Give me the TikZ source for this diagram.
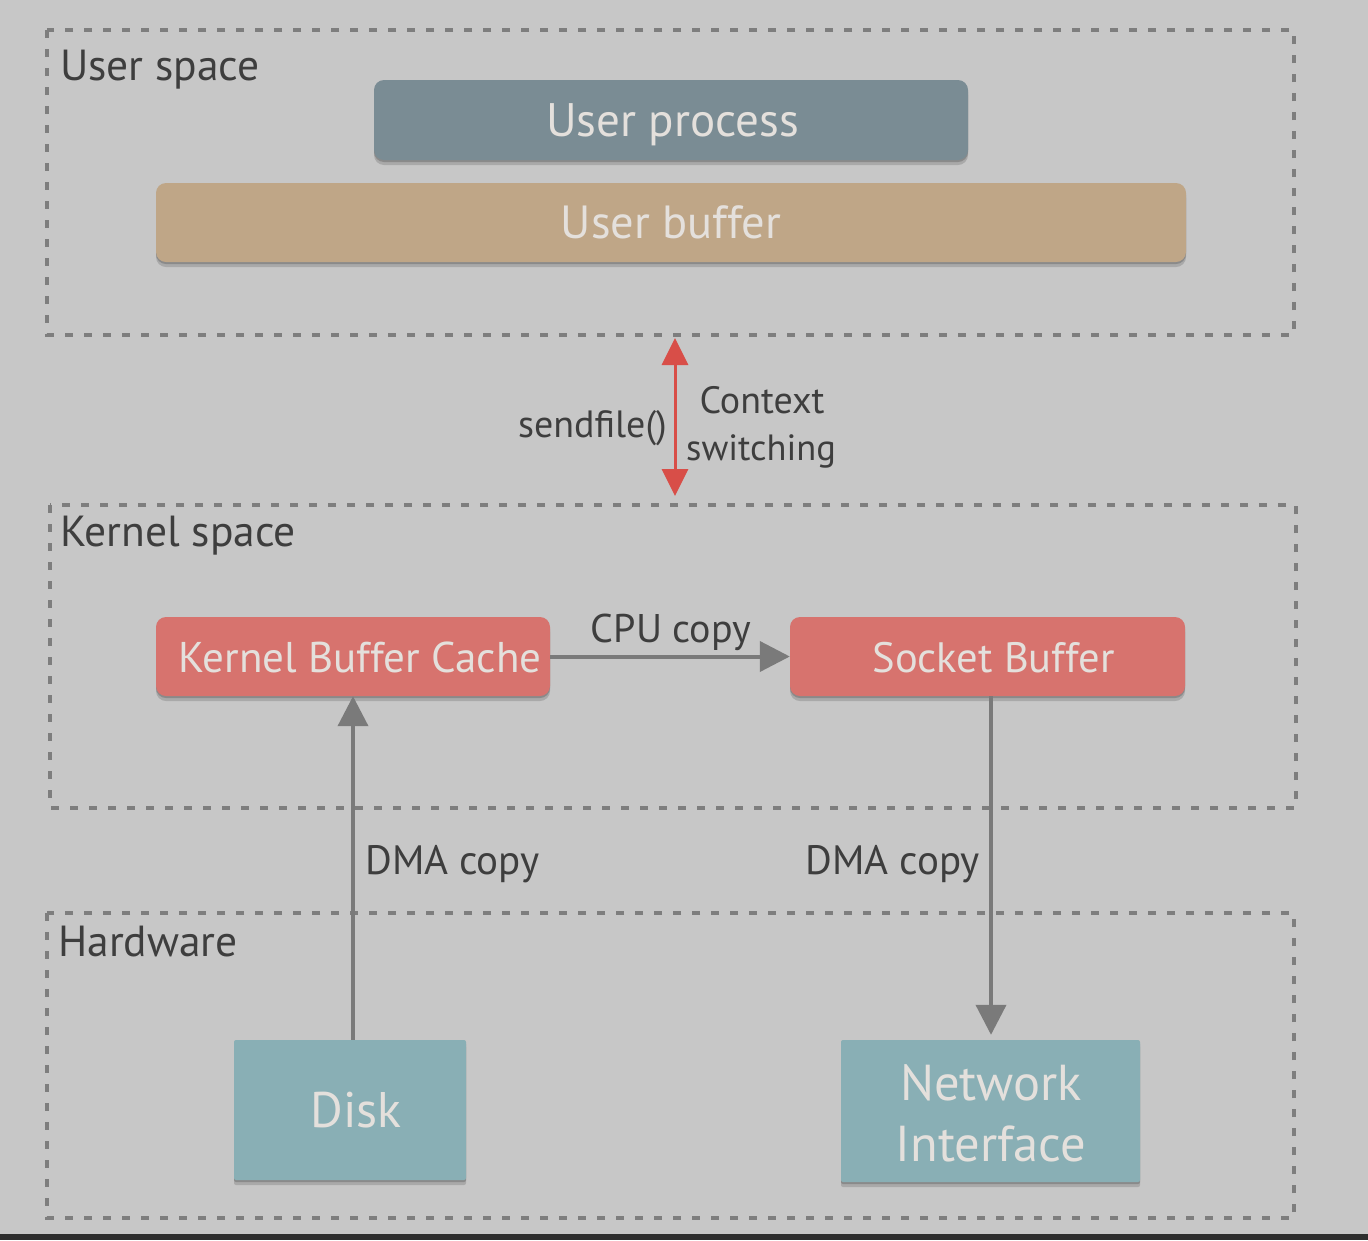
\documentclass[tikz,border=0pt]{standalone}
\usepackage{fontspec}
\setmainfont{PT Sans}
\usetikzlibrary{arrows.meta,shadows}
\definecolor{bg}{HTML}{C7C7C7}
\definecolor{bordergray}{HTML}{7E7E7E}
\definecolor{procgray}{HTML}{7A8C94}
\definecolor{buftan}{HTML}{BFA687}
\definecolor{kred}{HTML}{D7736E}
\definecolor{hwteal}{HTML}{89AFB5}
\definecolor{boxtext}{HTML}{E4E0DC}
\definecolor{labeltext}{HTML}{3E3E3E}
\definecolor{arrowgray}{HTML}{7A7A7A}
\definecolor{ctxred}{HTML}{D84E48}
\newcommand{\fsz}[1]{\fontsize{#1}{#1}\selectfont}
\newcommand{\padl}[1]{\hspace*{#1}}
\tikzset{
  region/.style={draw=bordergray, line width=3.5pt, dash pattern=on 8pt off 11pt},
  regionlabel/.style={anchor=base west, inner sep=0pt, text=labeltext, font=\fsz{43.5}},
  boxbase/.style={inner sep=0pt, text=boxtext, font=\fsz{46},
     text height=32pt, text depth=0pt,
     drop shadow={shadow xshift=0pt, shadow yshift=-2pt, opacity=0.18, fill=black},
     drop shadow={shadow xshift=0pt, shadow yshift=-5pt, opacity=0.15, fill=black}},
  roundbox/.style={boxbase, rounded corners=10pt},
  hwbox/.style={boxbase, rounded corners=2pt, fill=hwteal},
  boxline/.style={inner sep=0pt, anchor=base, text=boxtext, font=\fsz{50.5}},
  edgelabel/.style={inner sep=0pt, text=labeltext, font=\fsz{40}},
  grayarrow/.style={draw=arrowgray, line width=4pt, -{Triangle[length=30pt,width=30pt]}},
  redarrow/.style={draw=ctxred, line width=3pt, {Triangle[length=27pt,width=26pt]}-{Triangle[length=27pt,width=26pt]}},
}
\begin{document}
\begin{tikzpicture}[x=1pt,y=-1pt]
\useasboundingbox (0,0) rectangle (1368,1240);
\fill[bg] (0,0) rectangle (1368,1240);
\fill[black!82] (0,1234) rectangle (1368,1240);
% regions
\draw[region] (47,30) rectangle (1294,335);
\draw[region] (50,505) rectangle (1296,808);
\draw[region] (47,913) rectangle (1294,1218);
\node[regionlabel] (lu) at (60,80) {User space};
\node[regionlabel] (lk) at (60,546) {Kernel space};
\node[regionlabel] (lh) at (58,956) {Hardware};
% user space
\node[roundbox, fill=procgray, minimum width=594pt, minimum height=80pt, font=\fsz{47}] (proc) at (671,120) {\padl{3pt}User process};
\node[roundbox, fill=buftan, minimum width=1030pt, minimum height=79pt, font=\fsz{46.5}] (ubuf) at (671,222.5) {User buffer};
% kernel space
\node[roundbox, fill=kred, minimum width=394pt, minimum height=79pt, font=\fsz{43}] (kbc) at (353,656.5) {\padl{14pt}Kernel Buffer Cache};
\node[roundbox, fill=kred, minimum width=395pt, minimum height=79pt, font=\fsz{42.5}] (sb) at (987.5,656.5) {\padl{12pt}Socket Buffer};
% hardware
\node[hwbox, minimum width=232pt, minimum height=140pt, font=\fsz{50}, text height=35pt] (disk) at (350,1110) {\padl{12pt}Disk};
\node[hwbox, minimum width=299pt, minimum height=142pt] (nic) at (990.5,1111) {};
\node[boxline] (nic1) at (991,1100) {Network};
\node[boxline] (nic2) at (991,1161) {Interface};
% context switch arrow
\coordinate (ctxtop) at (675,338);
\coordinate (ctxbot) at (675,496);
\draw[redarrow] (ctxtop) -- (ctxbot);
\node[edgelabel, anchor=base east, font=\fsz{38}] (sf) at (667,437) {sendfile()};
\node[edgelabel, anchor=base, font=\fsz{38}] (ctx1) at (762,413) {Context};
\node[edgelabel, anchor=base, font=\fsz{36.5}] (ctx2) at (761,460) {switching};
% data copies
\draw[grayarrow] (kbc.east) -- (sb.west);
\node[edgelabel, anchor=base] (cpu) at (671,642) {CPU copy};
\draw[grayarrow] (disk.north -| 353,0) -- (kbc.south -| 353,0);
\node[edgelabel, anchor=base west, font=\fsz{41}] (dma1) at (365,874) {DMA copy};
\draw[grayarrow] (sb.south -| 991,0) -- ([yshift=5pt]nic.north -| 991,0);
\node[edgelabel, anchor=base east, font=\fsz{41}] (dma2) at (980,874) {DMA copy};
\end{tikzpicture}
\end{document}
